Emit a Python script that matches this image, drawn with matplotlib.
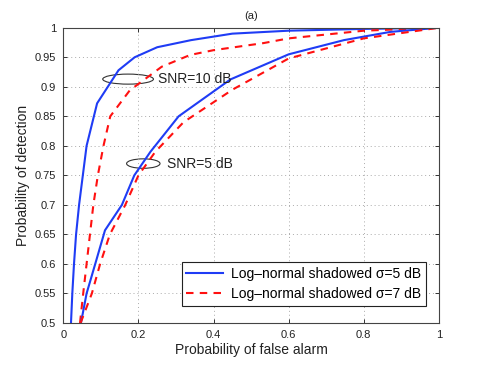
import matplotlib
matplotlib.use("Agg")
import matplotlib.pyplot as plt
from matplotlib.patches import Ellipse

plt.rcParams['font.family'] = ['Liberation Sans', 'DejaVu Sans']

# --- data (Pf, Pd) ---
pf_s5_snr10 = [0.0205, 0.024, 0.0285, 0.034, 0.042, 0.052, 0.062, 0.09, 0.147, 0.19, 0.25, 0.34, 0.45, 0.6, 0.8, 1.0]
pd_s5_snr10 = [0.5, 0.55, 0.6, 0.65, 0.7, 0.75, 0.8, 0.872, 0.928, 0.95, 0.967, 0.979, 0.99, 0.995, 0.998, 1.0]

pf_s7_snr10 = [0.0445, 0.053, 0.062, 0.071, 0.08, 0.092, 0.107, 0.125, 0.177, 0.262, 0.338, 0.4, 0.533, 0.6, 0.8, 1.0]
pd_s7_snr10 = [0.5, 0.55, 0.6, 0.65, 0.7, 0.75, 0.8, 0.85, 0.894, 0.934, 0.954, 0.962, 0.974, 0.982, 0.995, 1.0]

pf_s5_snr5 = [0.047, 0.062, 0.085, 0.111, 0.156, 0.189, 0.232, 0.307, 0.445, 0.6, 0.747, 0.871, 1.0]
pd_s5_snr5 = [0.5, 0.55, 0.6, 0.657, 0.7, 0.75, 0.79, 0.85, 0.9125, 0.955, 0.979, 0.993, 1.0]

pf_s7_snr5 = [0.046, 0.076, 0.098, 0.124, 0.165, 0.2, 0.245, 0.32, 0.45, 0.6, 0.8, 1.0]
pd_s7_snr5 = [0.5, 0.55, 0.6, 0.65, 0.7, 0.75, 0.79, 0.84, 0.895, 0.948, 0.982, 1.0]

legend_labels = ['Log\u2013normal shadowed \u03c3=5 dB', 'Log\u2013normal shadowed \u03c3=7 dB']
xticks = [0, 0.2, 0.4, 0.6, 0.8, 1]
yticks = [0.5, 0.55, 0.6, 0.65, 0.7, 0.75, 0.8, 0.85, 0.9, 0.95, 1]

blue = '#1f3cf5'
red = '#ff1010'
dash = (0, (3.6, 3.0))

fig = plt.figure(figsize=(4.85, 3.65), dpi=100)
ax = fig.add_axes([0.1305, 0.115, 0.7745, 0.809])

l1, = ax.plot(pf_s5_snr10, pd_s5_snr10, color=blue, lw=1.5)
l2, = ax.plot(pf_s7_snr10, pd_s7_snr10, color=red, lw=1.5, linestyle=dash)
ax.plot(pf_s5_snr5, pd_s5_snr5, color=blue, lw=1.5)
ax.plot(pf_s7_snr5, pd_s7_snr5, color=red, lw=1.5, linestyle=dash)

# ellipses marking curve pairs
ax.add_patch(Ellipse((0.1725, 0.913), 0.135, 0.017, fill=False, ec='#333333', lw=0.8))
ax.add_patch(Ellipse((0.213, 0.770), 0.089, 0.016, fill=False, ec='#333333', lw=0.8))
ax.text(0.251, 0.913, 'SNR=10 dB', fontsize=10, va='center', ha='left', color='#222222')
ax.text(0.276, 0.770, 'SNR=5 dB', fontsize=10, va='center', ha='left', color='#222222')

ax.set_xlim(0, 1)
ax.set_ylim(0.5, 1)
ax.set_xticks(xticks)
ax.set_xticklabels(['0', '0.2', '0.4', '0.6', '0.8', '1'])
ax.set_yticks(yticks)
ax.set_yticklabels(['0.5', '0.55', '0.6', '0.65', '0.7', '0.75', '0.8', '0.85', '0.9', '0.95', '1'])
ax.grid(True, linestyle=(0, (1, 3)), color='#aaaaaa', lw=0.7)
ax.tick_params(direction='in', length=3, width=0.7, top=True, right=True,
               labelsize=8, colors='#333333', labelcolor='#222222', pad=5)
for s in ax.spines.values():
    s.set_color('#444444')
    s.set_linewidth(0.8)

ax.set_xlabel('Probability of false alarm', fontsize=10, color='#222222')
ax.set_ylabel('Probability of detection', fontsize=10, color='#222222')
ax.xaxis.set_label_coords(0.5, -0.067)
ax.yaxis.set_label_coords(-0.089, 0.5)
ax.set_title('(a)', fontsize=8, color='#222222', pad=6)

leg = ax.legend([l1, l2], legend_labels, loc='lower right', bbox_to_anchor=(0.9654, 0.0586),
                borderaxespad=0, fontsize=10, handlelength=2.6, fancybox=False,
                framealpha=1, edgecolor='#222222', borderpad=0.35, labelspacing=0.4,
                handletextpad=0.6)
leg.get_frame().set_linewidth(0.8)

fig.savefig('out.png', dpi=100)
